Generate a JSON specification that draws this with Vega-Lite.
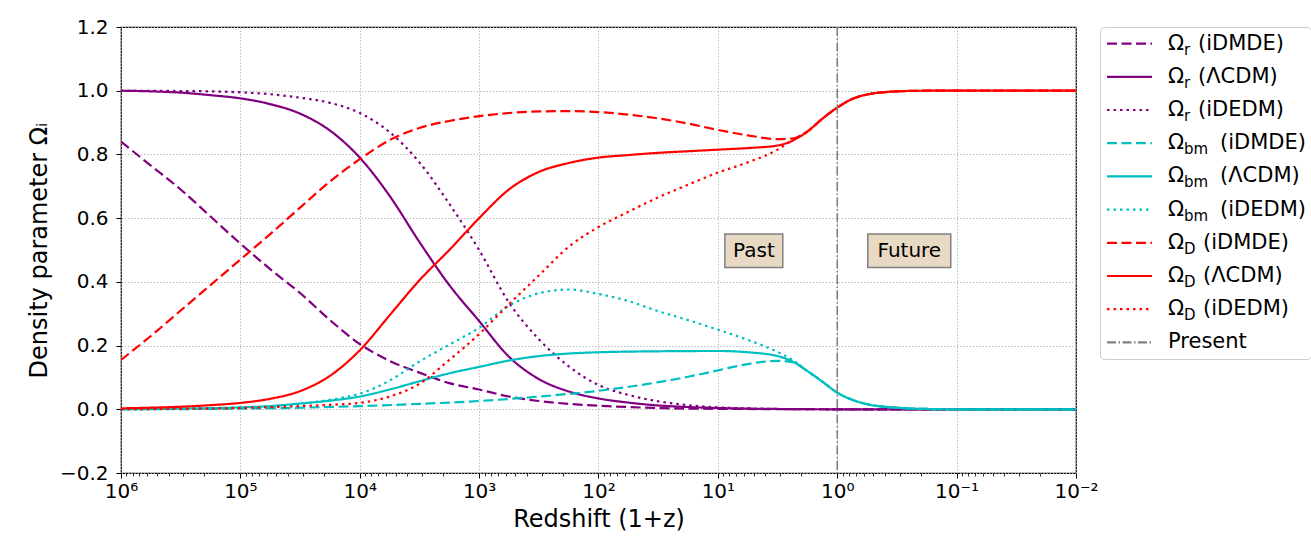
{
  "$schema": "https://vega.github.io/schema/vega-lite/v6.json",
  "background": "white",
  "padding": {"left": 26, "top": 16, "right": 0, "bottom": 0},
  "config": {
    "font": "DejaVu Sans",
    "axis": {"labelColor": "black", "titleColor": "black", "tickColor": "black", "titleFontWeight": "normal"}
  },
  "bounds": "flush",
  "spacing": 24,
  "resolve": {"scale": {"x": "independent", "y": "independent"}},
  "datasets": {
    "curves": [
      {"s":"r_iDMDE","z":1000000,"v":0.84},{"s":"r_iDMDE","z":562341,"v":0.765},{"s":"r_iDMDE","z":316228,"v":0.69},{"s":"r_iDMDE","z":177828,"v":0.605},{"s":"r_iDMDE","z":100000,"v":0.52},{"s":"r_iDMDE","z":56234,"v":0.44},{"s":"r_iDMDE","z":31623,"v":0.365},{"s":"r_iDMDE","z":17783,"v":0.28},{"s":"r_iDMDE","z":10000,"v":0.205},{"s":"r_iDMDE","z":5623.4,"v":0.152},{"s":"r_iDMDE","z":3162.3,"v":0.115},{"s":"r_iDMDE","z":1778.3,"v":0.082},{"s":"r_iDMDE","z":1000,"v":0.062},{"s":"r_iDMDE","z":562.34,"v":0.04},{"s":"r_iDMDE","z":316.23,"v":0.026},{"s":"r_iDMDE","z":177.83,"v":0.017},{"s":"r_iDMDE","z":100,"v":0.011},{"s":"r_iDMDE","z":56.234,"v":0.007},{"s":"r_iDMDE","z":31.623,"v":0.004},{"s":"r_iDMDE","z":17.783,"v":0.002},{"s":"r_iDMDE","z":10,"v":0.0015},{"s":"r_iDMDE","z":3.1623,"v":0.0005},{"s":"r_iDMDE","z":1,"v":0},{"s":"r_iDMDE","z":0.01,"v":0},

      {"s":"r_LCDM","z":1000000,"v":1.0},{"s":"r_LCDM","z":562341,"v":0.998},{"s":"r_LCDM","z":316228,"v":0.994},{"s":"r_LCDM","z":177828,"v":0.986},{"s":"r_LCDM","z":100000,"v":0.976},{"s":"r_LCDM","z":56234,"v":0.958},{"s":"r_LCDM","z":31623,"v":0.928},{"s":"r_LCDM","z":17783,"v":0.875},{"s":"r_LCDM","z":10000,"v":0.79},{"s":"r_LCDM","z":5623.4,"v":0.67},{"s":"r_LCDM","z":3162.3,"v":0.525},{"s":"r_LCDM","z":1778.3,"v":0.39},{"s":"r_LCDM","z":1000,"v":0.277},{"s":"r_LCDM","z":562.34,"v":0.165},{"s":"r_LCDM","z":316.23,"v":0.095},{"s":"r_LCDM","z":177.83,"v":0.056},{"s":"r_LCDM","z":100,"v":0.034},{"s":"r_LCDM","z":56.234,"v":0.021},{"s":"r_LCDM","z":31.623,"v":0.012},{"s":"r_LCDM","z":17.783,"v":0.007},{"s":"r_LCDM","z":10,"v":0.004},{"s":"r_LCDM","z":5.6234,"v":0.002},{"s":"r_LCDM","z":3.1623,"v":0.001},{"s":"r_LCDM","z":1,"v":0},{"s":"r_LCDM","z":0.01,"v":0},

      {"s":"r_iDEDM","z":1000000,"v":1.0},{"s":"r_iDEDM","z":316228,"v":0.999},{"s":"r_iDEDM","z":177828,"v":0.998},{"s":"r_iDEDM","z":100000,"v":0.995},{"s":"r_iDEDM","z":56234,"v":0.989},{"s":"r_iDEDM","z":31623,"v":0.978},{"s":"r_iDEDM","z":17783,"v":0.962},{"s":"r_iDEDM","z":10000,"v":0.93},{"s":"r_iDEDM","z":5623.4,"v":0.87},{"s":"r_iDEDM","z":3162.3,"v":0.775},{"s":"r_iDEDM","z":1778.3,"v":0.645},{"s":"r_iDEDM","z":1000,"v":0.5},{"s":"r_iDEDM","z":562.34,"v":0.335},{"s":"r_iDEDM","z":316.23,"v":0.22},{"s":"r_iDEDM","z":177.83,"v":0.135},{"s":"r_iDEDM","z":100,"v":0.076},{"s":"r_iDEDM","z":56.234,"v":0.045},{"s":"r_iDEDM","z":31.623,"v":0.025},{"s":"r_iDEDM","z":17.783,"v":0.013},{"s":"r_iDEDM","z":10,"v":0.006},{"s":"r_iDEDM","z":5.6234,"v":0.003},{"s":"r_iDEDM","z":3.1623,"v":0.001},{"s":"r_iDEDM","z":1,"v":0},{"s":"r_iDEDM","z":0.01,"v":0},

      {"s":"bm_iDMDE","z":1000000,"v":0},{"s":"bm_iDMDE","z":100000,"v":0.002},{"s":"bm_iDMDE","z":31623,"v":0.005},{"s":"bm_iDMDE","z":10000,"v":0.01},{"s":"bm_iDMDE","z":3162.3,"v":0.017},{"s":"bm_iDMDE","z":1000,"v":0.026},{"s":"bm_iDMDE","z":316.23,"v":0.04},{"s":"bm_iDMDE","z":100,"v":0.058},{"s":"bm_iDMDE","z":31.623,"v":0.085},{"s":"bm_iDMDE","z":17.783,"v":0.102},{"s":"bm_iDMDE","z":10,"v":0.122},{"s":"bm_iDMDE","z":5.6234,"v":0.142},{"s":"bm_iDMDE","z":3.1623,"v":0.152},{"s":"bm_iDMDE","z":2.3714,"v":0.148},{"s":"bm_iDMDE","z":1.7783,"v":0.12},{"s":"bm_iDMDE","z":1.3335,"v":0.087},{"s":"bm_iDMDE","z":1,"v":0.052},{"s":"bm_iDMDE","z":0.74989,"v":0.03},{"s":"bm_iDMDE","z":0.56234,"v":0.016},{"s":"bm_iDMDE","z":0.31623,"v":0.005},{"s":"bm_iDMDE","z":0.17783,"v":0.001},{"s":"bm_iDMDE","z":0.1,"v":0},{"s":"bm_iDMDE","z":0.01,"v":0},

      {"s":"bm_LCDM","z":1000000,"v":0},{"s":"bm_LCDM","z":316228,"v":0.002},{"s":"bm_LCDM","z":100000,"v":0.006},{"s":"bm_LCDM","z":56234,"v":0.01},{"s":"bm_LCDM","z":31623,"v":0.018},{"s":"bm_LCDM","z":17783,"v":0.027},{"s":"bm_LCDM","z":10000,"v":0.04},{"s":"bm_LCDM","z":5623.4,"v":0.062},{"s":"bm_LCDM","z":3162.3,"v":0.088},{"s":"bm_LCDM","z":1778.3,"v":0.113},{"s":"bm_LCDM","z":1000,"v":0.133},{"s":"bm_LCDM","z":562.34,"v":0.153},{"s":"bm_LCDM","z":316.23,"v":0.167},{"s":"bm_LCDM","z":177.83,"v":0.175},{"s":"bm_LCDM","z":100,"v":0.179},{"s":"bm_LCDM","z":31.623,"v":0.182},{"s":"bm_LCDM","z":10,"v":0.183},{"s":"bm_LCDM","z":5.6234,"v":0.179},{"s":"bm_LCDM","z":3.1623,"v":0.167},{"s":"bm_LCDM","z":2.3714,"v":0.15},{"s":"bm_LCDM","z":1.7783,"v":0.12},{"s":"bm_LCDM","z":1.3335,"v":0.087},{"s":"bm_LCDM","z":1,"v":0.052},{"s":"bm_LCDM","z":0.74989,"v":0.03},{"s":"bm_LCDM","z":0.56234,"v":0.016},{"s":"bm_LCDM","z":0.31623,"v":0.005},{"s":"bm_LCDM","z":0.17783,"v":0.001},{"s":"bm_LCDM","z":0.1,"v":0},{"s":"bm_LCDM","z":0.01,"v":0},

      {"s":"bm_iDEDM","z":1000000,"v":0},{"s":"bm_iDEDM","z":316228,"v":0.002},{"s":"bm_iDEDM","z":100000,"v":0.005},{"s":"bm_iDEDM","z":56234,"v":0.009},{"s":"bm_iDEDM","z":31623,"v":0.017},{"s":"bm_iDEDM","z":17783,"v":0.03},{"s":"bm_iDEDM","z":10000,"v":0.049},{"s":"bm_iDEDM","z":5623.4,"v":0.09},{"s":"bm_iDEDM","z":3162.3,"v":0.15},{"s":"bm_iDEDM","z":1778.3,"v":0.203},{"s":"bm_iDEDM","z":1000,"v":0.256},{"s":"bm_iDEDM","z":562.34,"v":0.325},{"s":"bm_iDEDM","z":316.23,"v":0.364},{"s":"bm_iDEDM","z":177.83,"v":0.376},{"s":"bm_iDEDM","z":100,"v":0.362},{"s":"bm_iDEDM","z":56.234,"v":0.34},{"s":"bm_iDEDM","z":31.623,"v":0.308},{"s":"bm_iDEDM","z":17.783,"v":0.28},{"s":"bm_iDEDM","z":10,"v":0.25},{"s":"bm_iDEDM","z":5.6234,"v":0.218},{"s":"bm_iDEDM","z":3.1623,"v":0.18},{"s":"bm_iDEDM","z":2.3714,"v":0.155},{"s":"bm_iDEDM","z":1.7783,"v":0.12},{"s":"bm_iDEDM","z":1.3335,"v":0.087},{"s":"bm_iDEDM","z":1,"v":0.052},{"s":"bm_iDEDM","z":0.74989,"v":0.03},{"s":"bm_iDEDM","z":0.56234,"v":0.016},{"s":"bm_iDEDM","z":0.31623,"v":0.005},{"s":"bm_iDEDM","z":0.17783,"v":0.001},{"s":"bm_iDEDM","z":0.1,"v":0},{"s":"bm_iDEDM","z":0.01,"v":0},

      {"s":"D_iDMDE","z":1000000,"v":0.155},{"s":"D_iDMDE","z":562341,"v":0.23},{"s":"D_iDMDE","z":316228,"v":0.31},{"s":"D_iDMDE","z":177828,"v":0.39},{"s":"D_iDMDE","z":100000,"v":0.47},{"s":"D_iDMDE","z":56234,"v":0.55},{"s":"D_iDMDE","z":31623,"v":0.633},{"s":"D_iDMDE","z":17783,"v":0.715},{"s":"D_iDMDE","z":10000,"v":0.785},{"s":"D_iDMDE","z":5623.4,"v":0.845},{"s":"D_iDMDE","z":3162.3,"v":0.883},{"s":"D_iDMDE","z":1778.3,"v":0.905},{"s":"D_iDMDE","z":1000,"v":0.92},{"s":"D_iDMDE","z":562.34,"v":0.93},{"s":"D_iDMDE","z":316.23,"v":0.935},{"s":"D_iDMDE","z":177.83,"v":0.936},{"s":"D_iDMDE","z":100,"v":0.933},{"s":"D_iDMDE","z":56.234,"v":0.925},{"s":"D_iDMDE","z":31.623,"v":0.913},{"s":"D_iDMDE","z":17.783,"v":0.897},{"s":"D_iDMDE","z":10,"v":0.877},{"s":"D_iDMDE","z":5.6234,"v":0.86},{"s":"D_iDMDE","z":3.1623,"v":0.848},{"s":"D_iDMDE","z":2.3714,"v":0.85},{"s":"D_iDMDE","z":1.7783,"v":0.872},{"s":"D_iDMDE","z":1.3335,"v":0.912},{"s":"D_iDMDE","z":1,"v":0.947},{"s":"D_iDMDE","z":0.74989,"v":0.974},{"s":"D_iDMDE","z":0.56234,"v":0.988},{"s":"D_iDMDE","z":0.31623,"v":0.998},{"s":"D_iDMDE","z":0.17783,"v":1.0},{"s":"D_iDMDE","z":0.1,"v":1.0},{"s":"D_iDMDE","z":0.01,"v":1.0},

      {"s":"D_LCDM","z":1000000,"v":0.003},{"s":"D_LCDM","z":562341,"v":0.005},{"s":"D_LCDM","z":316228,"v":0.008},{"s":"D_LCDM","z":177828,"v":0.013},{"s":"D_LCDM","z":100000,"v":0.02},{"s":"D_LCDM","z":56234,"v":0.033},{"s":"D_LCDM","z":31623,"v":0.057},{"s":"D_LCDM","z":17783,"v":0.105},{"s":"D_LCDM","z":10000,"v":0.185},{"s":"D_LCDM","z":5623.4,"v":0.295},{"s":"D_LCDM","z":3162.3,"v":0.405},{"s":"D_LCDM","z":1778.3,"v":0.5},{"s":"D_LCDM","z":1000,"v":0.6},{"s":"D_LCDM","z":562.34,"v":0.69},{"s":"D_LCDM","z":316.23,"v":0.745},{"s":"D_LCDM","z":177.83,"v":0.773},{"s":"D_LCDM","z":100,"v":0.79},{"s":"D_LCDM","z":56.234,"v":0.798},{"s":"D_LCDM","z":31.623,"v":0.805},{"s":"D_LCDM","z":17.783,"v":0.81},{"s":"D_LCDM","z":10,"v":0.815},{"s":"D_LCDM","z":5.6234,"v":0.82},{"s":"D_LCDM","z":3.1623,"v":0.828},{"s":"D_LCDM","z":2.3714,"v":0.843},{"s":"D_LCDM","z":1.7783,"v":0.872},{"s":"D_LCDM","z":1.3335,"v":0.912},{"s":"D_LCDM","z":1,"v":0.947},{"s":"D_LCDM","z":0.74989,"v":0.974},{"s":"D_LCDM","z":0.56234,"v":0.988},{"s":"D_LCDM","z":0.31623,"v":0.998},{"s":"D_LCDM","z":0.17783,"v":1.0},{"s":"D_LCDM","z":0.1,"v":1.0},{"s":"D_LCDM","z":0.01,"v":1.0},

      {"s":"D_iDEDM","z":1000000,"v":0},{"s":"D_iDEDM","z":100000,"v":0.004},{"s":"D_iDEDM","z":31623,"v":0.01},{"s":"D_iDEDM","z":17783,"v":0.014},{"s":"D_iDEDM","z":10000,"v":0.02},{"s":"D_iDEDM","z":5623.4,"v":0.04},{"s":"D_iDEDM","z":3162.3,"v":0.08},{"s":"D_iDEDM","z":1778.3,"v":0.155},{"s":"D_iDEDM","z":1000,"v":0.236},{"s":"D_iDEDM","z":562.34,"v":0.33},{"s":"D_iDEDM","z":316.23,"v":0.42},{"s":"D_iDEDM","z":177.83,"v":0.51},{"s":"D_iDEDM","z":100,"v":0.572},{"s":"D_iDEDM","z":56.234,"v":0.62},{"s":"D_iDEDM","z":31.623,"v":0.665},{"s":"D_iDEDM","z":17.783,"v":0.705},{"s":"D_iDEDM","z":10,"v":0.743},{"s":"D_iDEDM","z":5.6234,"v":0.775},{"s":"D_iDEDM","z":3.1623,"v":0.815},{"s":"D_iDEDM","z":2.3714,"v":0.845},{"s":"D_iDEDM","z":1.7783,"v":0.872},{"s":"D_iDEDM","z":1.3335,"v":0.912},{"s":"D_iDEDM","z":1,"v":0.947},{"s":"D_iDEDM","z":0.74989,"v":0.974},{"s":"D_iDEDM","z":0.56234,"v":0.988},{"s":"D_iDEDM","z":0.31623,"v":0.998},{"s":"D_iDEDM","z":0.17783,"v":1.0},{"s":"D_iDEDM","z":0.1,"v":1.0},{"s":"D_iDEDM","z":0.01,"v":1.0}
    ],
    "legendRows": [
      {"s":"r_iDMDE","t":"Ω","sub":"r","rest":"(iDMDE)"},
      {"s":"r_LCDM","t":"Ω","sub":"r","rest":"(ΛCDM)"},
      {"s":"r_iDEDM","t":"Ω","sub":"r","rest":"(iDEDM)"},
      {"s":"bm_iDMDE","t":"Ω","sub":"bm","rest":"(iDMDE)"},
      {"s":"bm_LCDM","t":"Ω","sub":"bm","rest":"(ΛCDM)"},
      {"s":"bm_iDEDM","t":"Ω","sub":"bm","rest":"(iDEDM)"},
      {"s":"D_iDMDE","t":"Ω","sub":"D","rest":"(iDMDE)"},
      {"s":"D_LCDM","t":"Ω","sub":"D","rest":"(ΛCDM)"},
      {"s":"D_iDEDM","t":"Ω","sub":"D","rest":"(iDEDM)"},
      {"s":"Present","t":"Present","sub":"","rest":""}
    ],
    "boxes": [
      {"t":"Past","zc":4.99,"vc":0.498,"zl":8.74,"zr":2.86,"vb":0.445,"vt":0.55},
      {"t":"Future","zc":0.249,"vc":0.498,"zl":0.555,"zr":0.112,"vb":0.445,"vt":0.55}
    ],
    "present": [{"z":1,"s":"Present"}]
  },
  "hconcat": [
    {
      "width": 955,
      "height": 446,
      "view": {"stroke": "black", "strokeWidth": 1.2, "fill": "white"},
      "resolve": {"axis": {"x": "independent", "y": "independent"}},
      "layer": [
        {
          "data": {"name": "curves"},
          "mark": {"type": "line", "strokeWidth": 2.2, "interpolate": "monotone", "clip": true},
          "encoding": {
            "x": {
              "field": "z", "type": "quantitative",
              "scale": {"type": "log", "domain": [0.01, 1000000], "reverse": true, "nice": false},
              "axis": {
                "orient": "bottom",
                "values": [1000000, 100000, 10000, 1000, 100, 10, 1, 0.1, 0.01],
                "labelExpr": "['10⁻²','10⁻¹','10⁰','10¹','10²','10³','10⁴','10⁵','10⁶'][round(log(datum.value)/LN10)+2]",
                "labelFlush": false, "labelOverlap": false,
                "labelFontSize": 20, "labelPadding": 3,
                "tickSize": 5, "tickWidth": 1,
                "grid": true, "gridColor": "#b0b0b0", "gridDash": [1.2, 2], "gridWidth": 1,
                "domain": false,
                "title": "Redshift (1+z)", "titleFontSize": 24, "titlePadding": 6
              }
            },
            "y": {
              "field": "v", "type": "quantitative",
              "scale": {"domain": [-0.2, 1.2], "nice": false, "zero": false},
              "axis": {
                "orient": "left",
                "values": [-0.2, 0, 0.2, 0.4, 0.6, 0.8, 1.0, 1.2],
                "format": ".1f",
                "labelFontSize": 20, "labelPadding": 8, "labelFlush": false,
                "tickSize": 5, "tickWidth": 1,
                "grid": true, "gridColor": "#b0b0b0", "gridDash": [1.2, 2], "gridWidth": 1,
                "domain": false,
                "title": "Density parameter Ωᵢ", "titleFontSize": 24, "titlePadding": 8
              }
            },
            "color": {
              "field": "s", "type": "nominal", "legend": null,
              "scale": {
                "domain": ["r_iDMDE","r_LCDM","r_iDEDM","bm_iDMDE","bm_LCDM","bm_iDEDM","D_iDMDE","D_LCDM","D_iDEDM","Present"],
                "range": ["#800080","#800080","#800080","#00bfbf","#00bfbf","#00bfbf","#ff0000","#ff0000","#ff0000","#808080"]
              }
            },
            "strokeDash": {
              "field": "s", "type": "nominal", "legend": null,
              "scale": {
                "domain": ["r_iDMDE","r_LCDM","r_iDEDM","bm_iDMDE","bm_LCDM","bm_iDEDM","D_iDMDE","D_LCDM","D_iDEDM","Present"],
                "range": [[10,4.5],[1,0],[2.5,4],[10,4.5],[1,0],[2.5,4],[10,4.5],[1,0],[2.5,4],[9,2.5,1.5,2.5]]
              }
            }
          }
        },
        {
          "data": {"name": "present"},
          "mark": {"type": "rule", "strokeWidth": 1.6, "color": "#808080", "strokeDash": [9, 2.5, 1.5, 2.5]},
          "encoding": {
            "x": {
              "field": "z", "type": "quantitative",
              "axis": {
                "orient": "bottom",
                "values": [900000,800000,700000,600000,500000,400000,300000,200000,90000,80000,70000,60000,50000,40000,30000,20000,9000,8000,7000,6000,5000,4000,3000,2000,900,800,700,600,500,400,300,200,90,80,70,60,50,40,30,20,9,8,7,6,5,4,3,2,0.9,0.8,0.7,0.6,0.5,0.4,0.3,0.2,0.09,0.08,0.07,0.06,0.05,0.04,0.03,0.02],
                "labels": false, "grid": false, "domain": false,
                "tickSize": 3, "tickWidth": 0.8, "title": null
              }
            }
          }
        },
        {
          "data": {"name": "boxes"},
          "mark": {"type": "rect", "fill": "#e8d9c5", "stroke": "#808080", "strokeWidth": 1.5},
          "encoding": {
            "x": {"field": "zl", "type": "quantitative", "axis": null},
            "x2": {"field": "zr"},
            "y": {"field": "vb", "type": "quantitative", "axis": null},
            "y2": {"field": "vt"}
          }
        },
        {
          "data": {"name": "boxes"},
          "mark": {"type": "text", "fontSize": 20, "color": "black", "align": "center", "baseline": "middle"},
          "encoding": {
            "x": {"field": "zc", "type": "quantitative", "axis": null},
            "y": {"field": "vc", "type": "quantitative", "axis": null},
            "text": {"field": "t"}
          }
        }
      ]
    },
    {
      "width": 211,
      "height": 332,
      "view": {"stroke": "#cccccc", "strokeWidth": 1, "cornerRadius": 4, "fill": "white"},
      "data": {"name": "legendRows"},
      "encoding": {
        "y": {"field": "s", "type": "nominal", "sort": null, "scale": {"type": "point", "padding": 0.5}, "axis": null}
      },
      "layer": [
        {
          "mark": {"type": "rule", "strokeWidth": 2.2},
          "encoding": {
            "x": {"datum": 7, "type": "quantitative", "scale": {"domain": [0, 211], "nice": false, "zero": false}, "axis": null},
            "x2": {"datum": 52},
            "color": {"field": "s", "type": "nominal", "legend": null},
            "strokeDash": {"field": "s", "type": "nominal", "legend": null}
          }
        },
        {
          "mark": {"type": "text", "align": "left", "baseline": "middle", "fontSize": 21, "color": "black"},
          "encoding": {
            "x": {"datum": 68, "type": "quantitative"},
            "text": {"field": "t"}
          }
        },
        {
          "transform": [{"filter": "datum.sub != ''"}],
          "mark": {"type": "text", "align": "left", "baseline": "middle", "fontSize": 15, "dy": 6, "color": "black"},
          "encoding": {
            "x": {"datum": 84, "type": "quantitative"},
            "text": {"field": "sub"}
          }
        },
        {
          "transform": [{"filter": "datum.sub == 'r'"}],
          "mark": {"type": "text", "align": "left", "baseline": "middle", "fontSize": 21, "color": "black"},
          "encoding": {
            "x": {"datum": 98, "type": "quantitative"},
            "text": {"field": "rest"}
          }
        },
        {
          "transform": [{"filter": "datum.sub == 'bm'"}],
          "mark": {"type": "text", "align": "left", "baseline": "middle", "fontSize": 21, "color": "black"},
          "encoding": {
            "x": {"datum": 120, "type": "quantitative"},
            "text": {"field": "rest"}
          }
        },
        {
          "transform": [{"filter": "datum.sub == 'D'"}],
          "mark": {"type": "text", "align": "left", "baseline": "middle", "fontSize": 21, "color": "black"},
          "encoding": {
            "x": {"datum": 103, "type": "quantitative"},
            "text": {"field": "rest"}
          }
        }
      ]
    }
  ]
}
